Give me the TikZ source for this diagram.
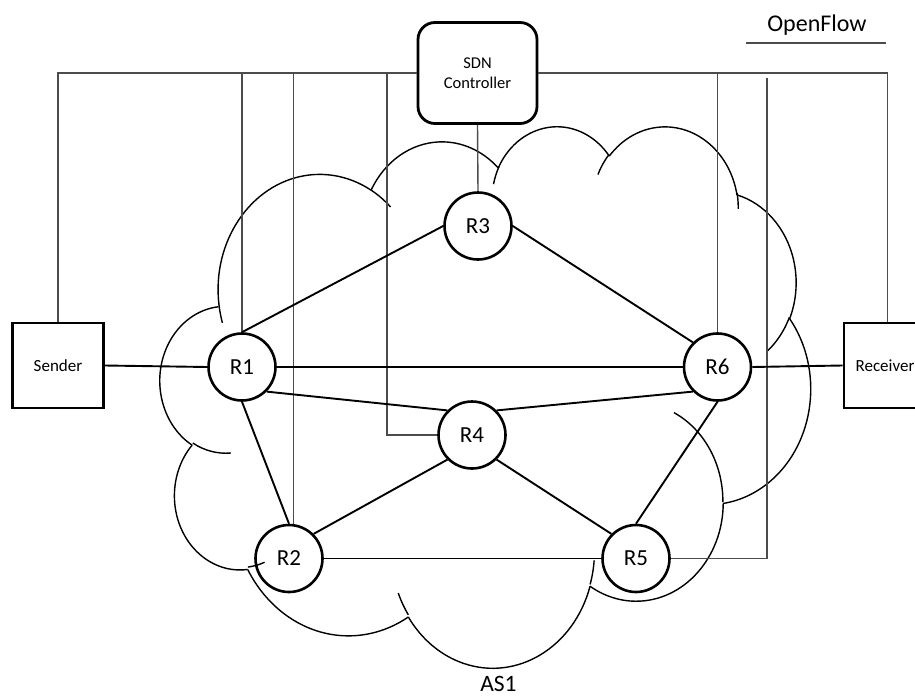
\documentclass[tikz,border=0pt]{standalone}
\usepackage{fontspec}
\setmainfont{Carlito}
\usepackage{tikz}

\newcommand\cloudarc[6]{%
  \pgfmathsetmacro\cloudta{atan2(#2*sin(#4),#3*cos(#4))}%
  \pgfmathsetmacro\cloudtb{atan2(#2*sin(#4+#5),#3*cos(#4+#5))}%
  \pgfmathsetmacro\cloudtd{mod(\cloudtb-\cloudta+720,360)}%
  \draw[cloudline] (#1) arc[start angle=\cloudta, delta angle=\cloudtd, x radius=#2, y radius=#3] coordinate (#6);%
}

\tikzset{
  cloudline/.style={black, line width=1.4pt},
  router/.style={circle, draw, line width=2.6pt, minimum size=67pt, inner sep=0pt, font=\fontsize{23}{26}\selectfont},
  hostbox/.style={draw, line width=2.8pt, minimum width=91pt, minimum height=85pt, inner sep=0pt, font=\fontsize{17}{20}\selectfont},
  ctrlbox/.style={draw, rounded corners=17pt, line width=2.8pt, minimum width=119pt, minimum height=101pt, align=center, font=\fontsize{16.5}{19.5}\selectfont},
  link/.style={line width=1.9pt},
  ctl/.style={draw=black!70, line width=1.4pt}
}

\begin{document}
\begin{tikzpicture}[x=1pt,y=-1pt]
\useasboundingbox (0,0) rectangle (915,696);
\clip (0,0) rectangle (915,696);

\begin{scope}[shift={(160.3,125)}, x=1.505pt, y=-1.253pt]
\coordinate (c0) at (39,143.7);
\cloudarc{c0}{67.53}{91.90}{-190.4875}{123.7805}{c1}
\cloudarc{c1}{53.33}{72.67}{-144.1024}{89.9452}{c2}
\cloudarc{c2}{43.65}{59.45}{-145.8079}{99.7230}{c3}
\cloudarc{c3}{48.57}{65.95}{-130.9861}{117.2417}{c4}
\cloudarc{c4}{53.33}{72.73}{-78.7089}{109.0269}{c5}
\cloudarc{c5}{67.75}{92.20}{-46.2673}{130.2690}{c6}
\cloudarc{c6}{57.85}{78.67}{0.6250}{114.0333}{c7}
\cloudarc{c7}{67.52}{92.15}{22.4516}{115.1726}{c8}
\cloudarc{c8}{77.20}{105.43}{66.2426}{75.7110}{c9}
\cloudarc{c9}{43.60}{59.18}{-274.9421}{146.7356}{c10}
\cloudarc{c10}{43.45}{59.45}{-246.8285}{152.5189}{c11}
\coordinate (s1) at (46.93,261.77);
\coordinate (s2) at (69.28,348.99);
\coordinate (s3) at (164.78,390.90);
\coordinate (s4) at (288.27,347.51);
\coordinate (s5) at (341.29,229.54);
\coordinate (s6) at (417.98,153.54);
\coordinate (s7) at (383.24,54.26);
\coordinate (s8) at (290.78,39.52);
\coordinate (s9) at (221.41,47.20);
\coordinate (s10) at (140.00,51.92);
\coordinate (s11) at (41.27,157.89);
\cloudarc{s1}{43.45}{59.45}{86.7420}{26.4295}{e1}
\cloudarc{s2}{43.60}{59.18}{73.6105}{11.4475}{e2}
\cloudarc{s3}{67.52}{92.15}{137.6242}{14.0811}{e3}
\cloudarc{s4}{67.52}{92.15}{6.4533}{15.9984}{e4}
\cloudarc{s5}{57.85}{78.67}{-70.2924}{70.9174}{e5}
\cloudarc{s6}{53.33}{72.73}{30.3180}{27.7515}{e6}
\cloudarc{s7}{48.57}{65.95}{-13.7443}{14.8589}{e7}
\cloudarc{s8}{48.57}{65.95}{-149.1815}{18.1954}{e8}
\cloudarc{s9}{43.65}{59.45}{-163.4943}{17.6864}{e9}
\cloudarc{s10}{67.53}{91.90}{-66.7070}{12.3194}{e10}
\cloudarc{s11}{67.53}{91.90}{157.6544}{11.8582}{e11}
\end{scope}

\node[ctrlbox] (ctrl) at (477.5,73) {SDN\\Controller};
\node[hostbox] (sender) at (58,365.5) {Sender};
\node[hostbox, minimum width=87pt] (receiver) at (887.5,365.5) {\hspace*{-5pt}Receiver};
\node[router] (R1) at (242,367) {R1};
\node[router] (R2) at (289,558.5) {R2};
\node[router] (R3) at (478,226) {R3};
\node[router] (R4) at (472,435) {R4};
\node[router] (R5) at (636,558.5) {R5};
\node[router] (R6) at (717.5,367) {R6};
\node[font=\fontsize{24}{28}\selectfont] (legend) at (817,25) {OpenFlow};
\node[font=\fontsize{23.5}{28}\selectfont] (as) at (498.5,684) {AS1};

\coordinate (lgA) at (746,43);
\coordinate (lgB) at (886,43);
\coordinate (k4) at (387,73);
\coordinate (k5) at (767,78);

\draw[ctl] (lgA) -- (lgB);
\draw[ctl] (ctrl.west) -| (sender.north);
\draw[ctl] (ctrl.east) -| (receiver.north);
\draw[ctl] (R1.north |- ctrl.west) -- (R1.north);
\draw[ctl] (R2.83 |- ctrl.west) -- (R2.83);
\draw[ctl] (k4) |- (R4.west);
\draw[ctl] (ctrl.south) -- (R3.north);
\draw[ctl] (R6.north |- ctrl.east) -- (R6.north);
\draw[ctl] (k5) |- (R5.east);

\draw[link] (sender.east) -- (R1.west);
\draw[link] (R1.east) -- (R6.west);
\draw[link] (R6.east) -- (receiver.west);
\draw[link] (R1.north) -- (R3.west);
\draw[link] (R3.east) -- (R6.north west);
\draw[link] (R1.south east) -- (R4.north west);
\draw[link] (R4.north east) -- (R6.south west);
\draw[link] (R1.south) -- (R2.north);
\draw[link] (R2.north east) -- (R4.south west);
\draw[link] (R2.east) -- (R5.west);
\draw[link] (R4.south east) -- (R5.north west);
\draw[link] (R6.south) -- (R5.north);
\end{tikzpicture}
\end{document}
